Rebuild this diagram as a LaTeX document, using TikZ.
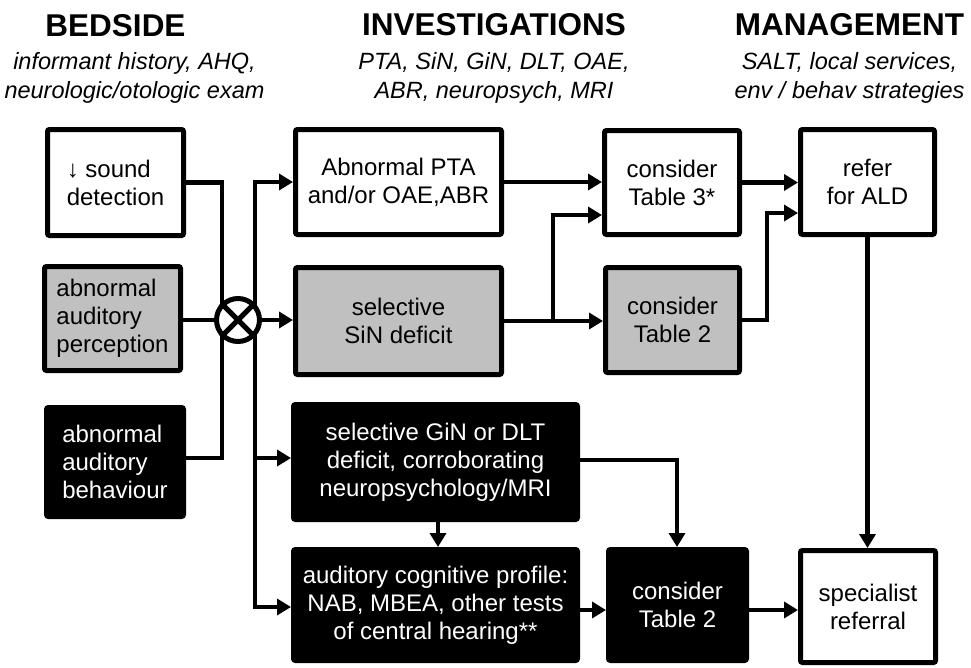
\documentclass[tikz,border=0pt]{standalone}
\usepackage{fontspec}
\setmainfont{Liberation Sans}
\usetikzlibrary{arrows.meta,backgrounds}
\definecolor{boxgray}{RGB}{192,192,192}
\begin{document}
\begin{tikzpicture}[x=1pt,y=-1pt,
  box/.style={draw=black, line width=5pt, rounded corners=2pt, inner sep=0pt, align=center, font=\fontsize{24}{28}\selectfont},
  wbox/.style={box, fill=white, text=black},
  gbox/.style={box, fill=boxgray, text=black},
  bbox/.style={box, fill=black, text=white},
  conn/.style={line width=4.5pt, line join=miter},
  arr/.style={conn, -{Triangle[length=14pt,width=16pt]}},
  head/.style={font=\fontsize{31.5}{36}\selectfont\bfseries, inner sep=0pt, anchor=base},
  sub/.style={font=\fontsize{23.5}{29}\selectfont\itshape, inner sep=0pt, align=center, anchor=base},
  junction/.style={circle, draw=black, fill=white, line width=5pt, minimum size=43pt, inner sep=0pt},
]
\begin{pgfonlayer}{background}
\useasboundingbox[fill=white] (0,0) rectangle (971,667);
\end{pgfonlayer}

% headings
\node[head] (hb) at (115.5,36) {BEDSIDE};
\node[head] (hi) at (494,35) {INVESTIGATIONS};
\node[head] (hm) at (849.5,35) {MANAGEMENT};
\node[sub] (sb) at (134.5,98) {informant history, AHQ,\\neurologic/otologic exam};
\node[sub] (si) at (494,98) {PTA, SiN, GiN, DLT, OAE,\\ABR, neuropsych, MRI};
\node[sub] (sm) at (849.5,98) {SALT, local services,\\env / behav strategies};

% bedside boxes
\node[wbox, align=left, minimum width=136pt, minimum height=106pt] (sd) at (115.5,182.5) {↓ sound\\detection};
\node[gbox, align=left, minimum width=136pt, minimum height=104pt] (ap) at (112.5,318.5) {abnormal\\auditory\\perception};
\node[bbox, align=left, minimum width=137pt, minimum height=109pt] (ab) at (115,462) {abnormal\\auditory\\behaviour};

% investigation boxes
\node[wbox, minimum width=206pt, minimum height=105pt] (pta) at (398.5,182) {Abnormal PTA\\and/or OAE,ABR};
\node[gbox, minimum width=206pt, minimum height=107pt] (sin) at (398.5,321) {selective\\SiN deficit};
\node[bbox, minimum width=284pt, minimum height=115pt] (gin) at (435.5,462) {selective GiN or DLT\\deficit, corroborating\\neuropsychology/MRI};
\node[bbox, minimum width=284pt, minimum height=111pt] (nab) at (435.5,605) {auditory cognitive profile:\\NAB, MBEA, other tests\\of central hearing**};

% consider boxes
\node[wbox, minimum width=135pt, minimum height=104pt] (t3) at (672,182.5) {consider\\Table 3*};
\node[gbox, minimum width=134pt, minimum height=105pt] (t2g) at (672.5,320) {consider\\Table 2};
\node[bbox, minimum width=138pt, minimum height=111pt] (t2b) at (677.5,605) {consider\\Table 2};

% management boxes
\node[wbox, minimum width=134pt, minimum height=105pt] (ald) at (867.5,182) {refer\\for ALD};
\node[wbox, minimum width=135pt, minimum height=112pt] (spec) at (868,606.5) {specialist\\referral};

% junction
\node[junction] (circ) at (238,320) {};
\draw[line width=5pt] (circ.north west) -- (circ.south east);
\draw[line width=5pt] (circ.north east) -- (circ.south west);

% helper coordinates
\coordinate (jl) at (222,320);
\coordinate (jr) at (255,320);
\coordinate (b1) at (553,215);
\coordinate (b2) at (767,213);
\coordinate (b3) at (677,460);
\coordinate (b5) at (600,610);

% connectors passing behind the junction
\begin{pgfonlayer}{background}
\draw[conn] (sd.east) -- (sd.east -| jl) -- ([yshift=4pt]ab.east -| jl) -- ([yshift=4pt]ab.east);
\draw[conn] (circ.west -| ap.east) -- (circ.west);
\draw[arr] (jr |- nab.west) -- (jr |- pta.west) -- (pta.west);
\draw[arr] (jr |- pta.west) -- ([yshift=-2pt]jr |- nab.west) -- ([yshift=-2pt]nab.west);
\end{pgfonlayer}

% other connectors
\draw[arr] (circ.east) -- (circ.east -| sin.west);
\draw[arr] ([yshift=4pt]jr |- gin.west) -- ([yshift=4pt]gin.west);
\draw[arr] (pta.east) -- (pta.east -| t3.west);
\draw[arr] (sin.east) -- (sin.east -| t2g.west);
\draw[arr] (b1 |- sin.east) -- (b1) -- (b1 -| t3.west);
\draw[arr] (t3.east) -- (t3.east -| ald.west);
\draw[arr] (t2g.east) -- (t2g.east -| b2) -- (b2) -- (b2 -| ald.west);
\draw[arr] (ald.south) -- (ald.south |- spec.north);
\draw[arr] (gin.east |- b3) -- (b3) -- (b3 |- t2b.north);
\draw[arr] ([xshift=2.5pt]gin.south) -- ([xshift=2.5pt]gin.south |- nab.north);
\draw[arr] (nab.east |- b5) -- (t2b.west |- b5);
\draw[arr] (t2b.east |- b5) -- (spec.west |- b5);
\end{tikzpicture}
\end{document}
